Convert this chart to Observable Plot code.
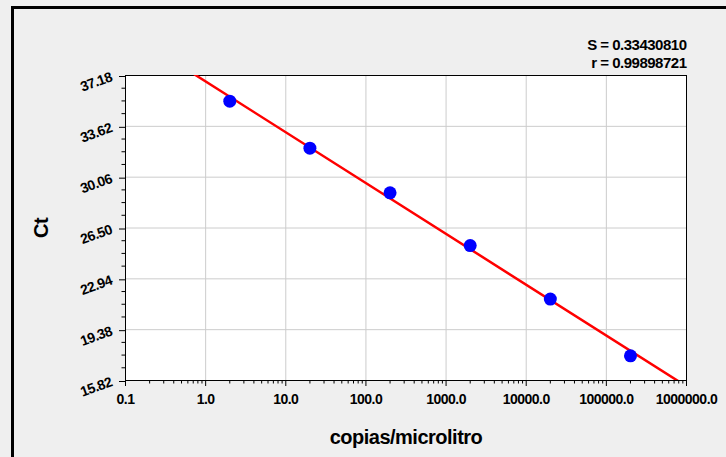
<!DOCTYPE html>
<html>
<head>
<meta charset="utf-8">
<script src="https://cdn.jsdelivr.net/npm/d3@7"></script>
<script src="https://cdn.jsdelivr.net/npm/@observablehq/plot@0.6"></script>
<style>
  html, body { margin: 0; padding: 0; background: #efefef; overflow: hidden; }
  #wrap { position: relative; width: 726px; height: 457px; }
  #wrap svg { display: block; }
  #edge {
    position: absolute; left: 11px; top: 6px; width: 800px; height: 800px;
    border-left: 3px solid #000; border-top: 3px solid #000; pointer-events: none;
  }
</style>
</head>
<body>
<div id="wrap"><div id="edge"></div></div>
<script>
// Standard curve: Ct versus copies per microlitre (log scale)
const concentrations = [2, 20, 200, 2000, 20000, 200000];
const ctValues = [35.38, 32.09, 28.96, 25.27, 21.52, 17.55];

const xTicks = [0.1, 1, 10, 100, 1000, 10000, 100000, 1000000];
const xTickLabels = ["0.1", "1.0", "10.0", "100.0", "1000.0", "10000.0", "100000.0", "1000000.0"];
const yTicks = [15.82, 19.38, 22.94, 26.50, 30.06, 33.62, 37.18];
const statLabels = ["S = 0.33430810", "r = 0.99898721"];
const xTitle = "copias/microlitro";
const yTitle = "Ct";

const points = concentrations.map((c, i) => ({c, ct: ctValues[i]}));

// Least-squares fit of Ct against log10(concentration)
const lx = concentrations.map(Math.log10);
const mx = d3.mean(lx), my = d3.mean(ctValues);
const slope = d3.sum(lx, (v, i) => (v - mx) * (ctValues[i] - my)) / d3.sum(lx, v => (v - mx) ** 2);
const intercept = my - slope * mx;
const xDomain = [xTicks[0], xTicks[xTicks.length - 1]];
const fit = xDomain.map(c => ({c, ct: intercept + slope * Math.log10(c)}));

// Minor ticks: 2..9 within each decade on x, quarter steps on y
const minorX = d3.range(-1, 6).flatMap(e => d3.range(2, 10).map(m => m * 10 ** e));
const yStep = (yTicks[1] - yTicks[0]) / 4;
const minorY = d3.range(0, (yTicks.length - 1) * 4 + 1).map(k => yTicks[0] + k * yStep).filter((v, k) => k % 4 !== 0);

const xLabelOf = new Map(xTicks.map((t, i) => [t, xTickLabels[i]]));
const font = "'Liberation Sans', Arial, Helvetica, sans-serif";

const chart = Plot.plot({
  width: 726,
  height: 457,
  marginLeft: 125,
  marginRight: 40,
  marginTop: 75,
  marginBottom: 77,
  style: {
    background: "#efefef", color: "black", fontFamily: font,
    fontWeight: "bold", fontSize: "14px", letterSpacing: "-0.5px"
  },
  x: {type: "log", domain: xDomain},
  y: {domain: [yTicks[0], yTicks[yTicks.length - 1]]},
  marks: [
    Plot.frame({fill: "white", stroke: null}),
    Plot.gridX(xTicks, {stroke: "#cccccc", strokeOpacity: 1}),
    Plot.gridY(yTicks, {stroke: "#cccccc", strokeOpacity: 1}),
    Plot.frame({stroke: "black"}),
    Plot.axisX(minorX, {tickSize: 3.5, fill: "none", label: null}),
    Plot.axisY(minorY, {tickSize: 3.5, fill: "none", label: null}),
    Plot.axisX(xTicks, {
      tickSize: 6, tickPadding: 8, fontSize: 14, label: null,
      tickFormat: d => xLabelOf.get(d)
    }),
    Plot.axisY(yTicks, {
      tickSize: 6, tickPadding: 8, tickRotate: -20, fontSize: 14, label: null, dy: 1,
      tickFormat: d => d.toFixed(2)
    }),
    Plot.line(fit, {x: "c", y: "ct", stroke: "#ff0000", strokeWidth: 2.5, clip: true}),
    Plot.dot(points, {x: "c", y: "ct", r: 6.5, fill: "#0000ff", stroke: null}),
    Plot.text([statLabels.join("\n")], {
      frameAnchor: "top-right", textAnchor: "end", lineAnchor: "bottom",
      lineHeight: 1.2, dy: -7.5, fontSize: 15, fontWeight: "bold"
    }),
    Plot.text([xTitle], {frameAnchor: "bottom", textAnchor: "middle", dy: 63, fontSize: 20, fontWeight: "bold"}),
    Plot.text([yTitle], {frameAnchor: "left", textAnchor: "middle", dx: -84, rotate: -90, fontSize: 20, fontWeight: "bold"})
  ]
});

document.getElementById("wrap").prepend(chart);
</script>
</body>
</html>
